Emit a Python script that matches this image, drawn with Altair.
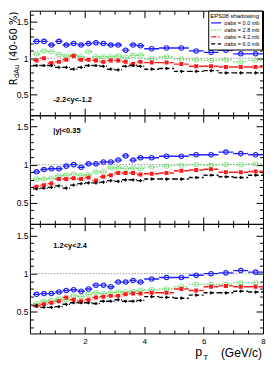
import altair as alt
import pandas as pd

FONT = "Liberation Sans"

# pT bins (GeV/c)
pt_lo = [0.25, 0.5, 0.75, 1.0, 1.25, 1.5, 1.75, 2.0, 2.25, 2.5, 2.75, 3.0, 3.25, 3.5, 3.75,
         4.0, 4.5, 5.0, 5.5, 6.0, 6.5, 7.0, 7.5]
pt_hi = [0.5, 0.75, 1.0, 1.25, 1.5, 1.75, 2.0, 2.25, 2.5, 2.75, 3.0, 3.25, 3.5, 3.75, 4.0,
         4.5, 5.0, 5.5, 6.0, 6.5, 7.0, 7.5, 8.0]
pt_mid = [0.375, 0.625, 0.875, 1.125, 1.375, 1.625, 1.875, 2.125, 2.375, 2.625, 2.875, 3.125,
          3.375, 3.625, 3.875, 4.25, 4.75, 5.25, 5.75, 6.25, 6.75, 7.25, 7.75]

series = ["σabs = 0.0 mb", "σabs = 2.8 mb", "σabs = 4.2 mb", "σabs = 6.0 mb"]
colors = ["#1f1fff", "#66d966", "#ff1a1a", "#000000"]
dashes = [[1, 0], [1.5, 1.5], [5, 2, 1.5, 2], [4, 2.5]]
rapidity = ["-2.2<y<-1.2", "|y|<0.35", "1.2<y<2.4"]

# backward rapidity -2.2<y<-1.2
bwd_00 = [1.23, 1.23, 1.18, 1.23, 1.18, 1.20, 1.18, 1.20, 1.21, 1.20, 1.18, 1.18, 1.11, 1.18, 1.17,
          1.13, 1.14, 1.14, 1.10, 1.08, 1.11, 1.06, 1.06]
bwd_28 = [1.06, 1.10, 1.09, 1.05, 1.03, 1.04, 1.02, 1.09, 1.02, 1.02, 1.02, 1.03, 1.01, 1.04, 1.04,
          0.99, 1.02, 0.99, 0.98, 0.97, 0.98, 0.95, 0.97]
bwd_42 = [0.97, 1.00, 0.935, 0.95, 0.98, 1.03, 0.98, 0.98, 0.97, 0.95, 0.97, 0.97, 0.95, 0.92, 0.95,
          0.94, 0.94, 0.92, 0.89, 0.89, 0.88, 0.88, 0.88]
bwd_60 = [0.90, 0.90, 0.90, 0.875, 0.875, 0.85, 0.875, 0.90, 0.90, 0.89, 0.85, 0.84, 0.89, 0.90, 0.89,
          0.85, 0.86, 0.82, 0.82, 0.83, 0.80, 0.80, 0.80]

# mid rapidity |y|<0.35
mid_00 = [0.905, 0.935, 0.945, 0.945, 0.98, 1.00, 0.965, 1.01, 1.01, 1.035, 1.035, 1.06, 1.115, 1.06, 1.09,
          1.09, 1.11, 1.11, 1.13, 1.13, 1.165, 1.145, 1.13]
mid_28 = [0.81, 0.81, 0.82, 0.85, 0.86, 0.875, 0.86, 0.87, 0.905, 0.905, 0.955, 0.955, 0.95, 0.955, 0.95,
          0.97, 0.98, 0.99, 1.00, 0.99, 1.00, 1.00, 1.01]
mid_42 = [0.71, 0.73, 0.75, 0.81, 0.81, 0.82, 0.81, 0.83, 0.79, 0.84, 0.86, 0.89, 0.89, 0.89, 0.87,
          0.88, 0.89, 0.92, 0.93, 0.94, 0.90, 0.90, 0.91]
mid_60 = [0.68, 0.69, 0.70, 0.72, 0.69, 0.73, 0.75, 0.76, 0.76, 0.77, 0.79, 0.78, 0.80, 0.80, 0.79,
          0.81, 0.81, 0.81, 0.83, 0.86, 0.84, 0.83, 0.86]

# forward rapidity 1.2<y<2.4
fwd_00 = [0.73, 0.74, 0.74, 0.76, 0.78, 0.79, 0.77, 0.80, 0.85, 0.85, 0.83, 0.89, 0.89, 0.91, 0.89,
          0.93, 0.95, 0.95, 0.98, 1.00, 1.01, 1.04, 1.02]
fwd_28 = [0.61, 0.64, 0.65, 0.67, 0.66, 0.71, 0.70, 0.73, 0.75, 0.74, 0.75, 0.76, 0.76, 0.77, 0.78,
          0.79, 0.80, 0.83, 0.86, 0.86, 0.86, 0.88, 0.88]
fwd_42 = [0.58, 0.60, 0.62, 0.64, 0.69, 0.66, 0.64, 0.66, 0.69, 0.70, 0.71, 0.71, 0.73, 0.74, 0.74,
          0.75, 0.75, 0.80, 0.78, 0.83, 0.84, 0.83, 0.83]
fwd_60 = [0.58, 0.56, 0.56, 0.57, 0.60, 0.62, 0.62, 0.62, 0.61, 0.64, 0.64, 0.66, 0.64, 0.64, 0.65,
          0.70, 0.69, 0.68, 0.72, 0.75, 0.75, 0.77, 0.76]

x_ticks = [0.5, 1.0, 1.5, 2.0, 2.5, 3.0, 3.5, 4.0, 4.5, 5.0, 5.5, 6.0, 6.5, 7.0, 7.5, 8.0]
y_ticks = [0.3, 0.4, 0.5, 0.6, 0.7, 0.8, 0.9, 1.0, 1.1, 1.2, 1.3, 1.4, 1.5, 1.6]

panels = [[bwd_00, bwd_28, bwd_42, bwd_60],
          [mid_00, mid_28, mid_42, mid_60],
          [fwd_00, fwd_28, fwd_42, fwd_60]]

rows = []
for p, vals in enumerate(panels):
    for s, v in zip(series, vals):
        for lo, hi, m, r in zip(pt_lo, pt_hi, pt_mid, v):
            rows.append(dict(panel=p, series=s, lo=lo, hi=hi, pt=m, r=r))
df = pd.DataFrame(rows)
unity = pd.DataFrame({"r": [1.0]})

W = 234
XD = [0.15, 8.0]
YD = [0.22, 1.65]
xs = alt.Scale(domain=XD, nice=False, zero=False)
ys = alt.Scale(domain=YD, nice=False, zero=False)
cs = alt.Scale(domain=series, range=colors)
ds = alt.Scale(domain=series, range=dashes)

XMAJ = "abs(datum.value / 2 - round(datum.value / 2)) < 0.001"
YMAJ = "abs(datum.value * 2 - round(datum.value * 2)) < 0.001"


def x_axis(orient, labels):
    return alt.Axis(orient=orient, values=x_ticks, title=None, grid=False, domain=False,
                    tickColor="black", tickWidth=1,
                    tickSize={"condition": {"test": XMAJ, "value": -7}, "value": -3.5},
                    labels=labels, labelExpr=f"({XMAJ}) ? datum.label : ''", format="~g",
                    labelFont=FONT, labelFontSize=8, labelColor="black", labelPadding=11,
                    labelOverlap=False, labelFlush=False)


def y_axis(orient, labels):
    return alt.Axis(orient=orient, values=y_ticks, title=None, grid=False, domain=False,
                    tickColor="black", tickWidth=1,
                    tickSize={"condition": {"test": YMAJ, "value": -7}, "value": -3.5},
                    labels=labels, labelExpr=f"({YMAJ}) ? datum.label : ''", format="~g",
                    labelFont=FONT, labelFontSize=8.5, labelColor="black", labelPadding=9,
                    labelOverlap=False, labelFlush=False)


marker_styles = [
    dict(shape="circle", filled=False, size=20, strokeWidth=1.1),
    dict(shape="cross", angle=45, filled=False, size=24, strokeWidth=0.8),
    dict(shape="square", filled=True, size=16),
    dict(shape="cross", filled=True, size=10),
]


def panel(p, height, bottom_labels, legend, label_y, extra=()):
    d = df[df.panel == p]
    ref = alt.Chart(unity).mark_rule(color="#999999", strokeDash=[1.5, 1.5], strokeWidth=1).encode(
        x=alt.XDatum(XD[0], type="quantitative", scale=xs, axis=x_axis("bottom", bottom_labels)),
        x2=alt.X2Datum(XD[1]),
        y=alt.Y("r:Q", scale=ys, axis=y_axis("left", True)),
    )
    frame = alt.Chart(unity).mark_point(opacity=0).encode(
        x=alt.XDatum(1.0, type="quantitative", scale=xs, axis=x_axis("top", False)),
        y=alt.Y("r:Q", scale=ys, axis=y_axis("right", False)),
    )
    leg = None
    if legend:
        leg = alt.Legend(title="EPS08 shadowing", orient="none", legendX=W - 55, legendY=0,
                         symbolType="stroke", symbolSize=100, symbolStrokeWidth=1.3,
                         clipHeight=6.5,
                         titleFontSize=6, labelFontSize=5.5, titleFont=FONT, labelFont=FONT,
                         titleFontWeight="normal", titleColor="black", labelColor="black",
                         padding=2, rowPadding=0, labelOffset=2, titlePadding=1,
                         fillColor="white", strokeColor="black", offset=0)
    bars = alt.Chart(d).mark_rule(strokeWidth=1.4, clip=True).encode(
        x=alt.X("lo:Q", scale=xs, axis=None), x2="hi:Q",
        y=alt.Y("r:Q", scale=ys, axis=None),
        color=alt.Color("series:N", scale=cs, legend=leg),
        strokeDash=alt.StrokeDash("series:N", scale=ds, legend=leg),
    )
    pts = []
    for s, c, st in zip(series, colors, marker_styles):
        pts.append(alt.Chart(d).transform_filter(alt.datum.series == s)
                   .mark_point(color=c, opacity=1, clip=True, **st).encode(
                       x=alt.X("pt:Q", scale=xs, axis=None),
                       y=alt.Y("r:Q", scale=ys, axis=None)))
    txt = alt.Chart(unity).mark_text(text=rapidity[p], align="left", baseline="middle",
                                     fontSize=7.5, fontWeight="bold", font=FONT, color="black").encode(
        x=alt.XDatum(0.94, type="quantitative", scale=xs, axis=None),
        y=alt.YDatum(label_y, type="quantitative", scale=ys, axis=None),
    )
    return (alt.layer(ref, frame, bars, *pts, txt, *extra)
            .resolve_axis(x="independent", y="independent")
            .properties(width=W, height=height))


TF = "DejaVu Sans"
ytitle = [
    alt.Chart(unity).mark_text(text="(40-60 %)", angle=270, align="right", baseline="middle",
                               font=TF, fontSize=10, color="black").encode(
        x=alt.value(-16), y=alt.value(1)),
    alt.Chart(unity).mark_text(text="dAu", angle=270, align="right", baseline="middle",
                               font=TF, fontSize=7, color="black").encode(
        x=alt.value(-13), y=alt.value(54)),
    alt.Chart(unity).mark_text(text="R", angle=270, align="right", baseline="middle",
                               font=TF, fontSize=10, color="black").encode(
        x=alt.value(-16), y=alt.value(68)),
]
xtitle = [
    alt.Chart(unity).mark_text(text="p", align="left", baseline="alphabetic",
                               font=FONT, fontSize=12.5, color="black").encode(
        x=alt.value(W - 68), y=alt.value(133)),
    alt.Chart(unity).mark_text(text="T", align="left", baseline="alphabetic",
                               font=FONT, fontSize=8, color="black").encode(
        x=alt.value(W - 60), y=alt.value(137)),
    alt.Chart(unity).mark_text(text="(GeV/c)", align="right", baseline="alphabetic",
                               font=FONT, fontSize=12, color="black").encode(
        x=alt.value(W - 1), y=alt.value(134)),
]

p1 = panel(0, 105, False, True, 0.43, ytitle)
p2 = panel(1, 109, False, False, 1.44)
p3 = panel(2, 110, True, False, 1.36, xtitle)

chart = (alt.vconcat(p1, p2, p3, spacing=0, bounds="flush")
         .resolve_scale(color="independent", strokeDash="independent")
         .properties(padding={"left": 0, "top": 1, "right": 0, "bottom": 0})
         .configure_view(stroke="black", strokeWidth=1))

chart.save("out.html", embed_options={"renderer": "svg", "actions": False})
